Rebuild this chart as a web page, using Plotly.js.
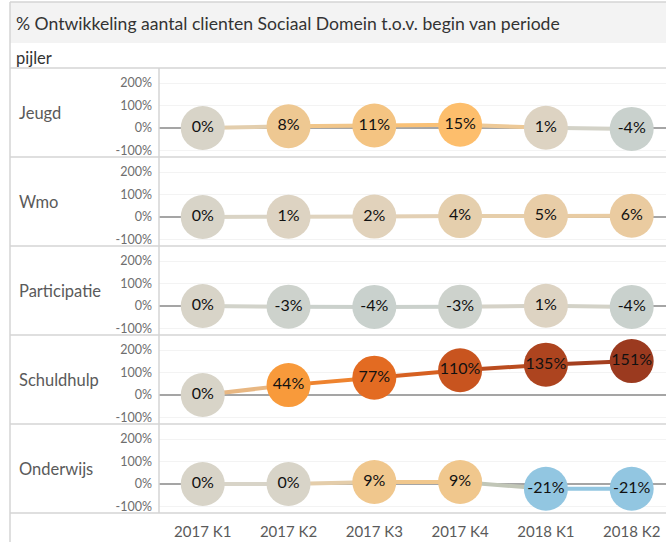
<!DOCTYPE html>
<html>
<head>
<meta charset="utf-8">
<script src="https://cdn.plot.ly/plotly-3.0.1.min.js"></script>
<style>
  body { margin: 0; padding: 0; background: #fff; }
  #chart { width: 666px; height: 542px; }
</style>
</head>
<body>
<div id="chart"></div>
<script>
'use strict'
var quarters = ['2017 K1', '2017 K2', '2017 K3', '2017 K4', '2018 K1', '2018 K2'];
var pijlers = ['Jeugd', 'Wmo', 'Participatie', 'Schuldhulp', 'Onderwijs'];
var jeugd = [0, 8, 11, 15, 1, -4];
var wmo = [0, 1, 2, 4, 5, 6];
var participatie = [0, -3, -4, -3, 1, -4];
var schuldhulp = [0, 44, 77, 110, 135, 151];
var onderwijs = [0, 0, 9, 9, -21, -21];
var yTicks = [-100, 0, 100, 200];
var rows = [jeugd, wmo, participatie, schuldhulp, onderwijs];

/* diverging palette: [value, colour] */
var palette = [
  [-21, '#92c6e1'], [-4, '#c9d1cd'], [0, '#d8d4c8'], [2, '#e1d2bb'],
  [8, '#eec892'], [15, '#fdbe6c'], [44, '#f89a3b'], [77, '#e36b22'],
  [110, '#c8541f'], [151, '#9b3a1f']
];
var cmin = palette[0][0], cmax = palette[palette.length - 1][0];
var colorscale = palette.map(function(p){ return [(p[0] - cmin) / (cmax - cmin), p[1]]; });

function hex2rgb(h){
  return [parseInt(h.substr(1, 2), 16), parseInt(h.substr(3, 2), 16), parseInt(h.substr(5, 2), 16)];
}
function colorAt(v){
  for(var i = 0; i < palette.length - 1; i++){
    if(v <= palette[i + 1][0]){
      var t = (v - palette[i][0]) / (palette[i + 1][0] - palette[i][0]);
      var a = hex2rgb(palette[i][1]), b = hex2rgb(palette[i + 1][1]);
      return [0, 1, 2].map(function(k){ return a[k] + (b[k] - a[k]) * t; });
    }
  }
  return hex2rgb(palette[palette.length - 1][1]);
}
function segColor(v1, v2){
  var a = colorAt(v1), b = colorAt(v2);
  return 'rgb(' + [0, 1, 2].map(function(k){ return Math.round((a[k] + b[k]) / 2); }).join(',') + ')';
}

/* pixel -> paper helpers (plot area x 159..666, y 68..513) */
function px(x){ return (x - 159) / 507; }
function py(y){ return (513 - y) / 445; }

var traces = [];
rows.forEach(function(vals, r){
  var ya = r == 0 ? 'y' : 'y' + (r + 1);
  // connecting segments first so circles sit on top
  for(var i = 0; i < vals.length - 1; i++){
    traces.push({
      type: 'scatter', mode: 'lines',
      x: [quarters[i], quarters[i + 1]], y: [vals[i], vals[i + 1]],
      xaxis: 'x', yaxis: ya,
      line: {color: segColor(vals[i], vals[i + 1]), width: 4},
      hoverinfo: 'skip'
    });
  }
  traces.push({
    type: 'scatter', mode: 'markers+text',
    x: quarters, y: vals,
    xaxis: 'x', yaxis: ya,
    text: vals.map(function(v){ return v + '%'; }),
    textposition: 'middle center',
    textfont: {size: 16, color: '#111'},
    cliponaxis: false,
    marker: {size: 44, color: vals, colorscale: colorscale, cmin: cmin, cmax: cmax,
             line: {width: 0}, opacity: 1}
  });
});

var shapes = [
  {type: 'rect', xref: 'paper', yref: 'paper', x0: px(10), x1: px(666), y0: py(43), y1: py(2),
   fillcolor: '#f3f3f3', line: {width: 0}, layer: 'below'},
  {type: 'line', xref: 'paper', yref: 'paper', x0: px(10), x1: px(666), y0: py(2), y1: py(2),
   line: {color: '#d4d4d4', width: 1.5}},
  {type: 'line', xref: 'paper', yref: 'paper', x0: px(10), x1: px(10), y0: py(2), y1: py(542),
   line: {color: '#d4d4d4', width: 1.5}},
  {type: 'line', xref: 'paper', yref: 'paper', x0: 0, x1: 0, y0: 0, y1: 1,
   line: {color: '#d4d4d4', width: 1.5}}
];
for(var k = 0; k <= pijlers.length; k++){
  shapes.push({type: 'line', xref: 'paper', yref: 'paper', x0: px(10), x1: px(666),
    y0: 1 - k * 0.2, y1: 1 - k * 0.2, line: {color: '#d4d4d4', width: 1.5}});
}

var annotations = [
  {text: 'pijler', xref: 'paper', yref: 'paper', x: px(14), y: py(58), xanchor: 'left', yanchor: 'middle',
   showarrow: false, font: {size: 16.5, color: '#333'}}
];
pijlers.forEach(function(p, r){
  annotations.push({text: p, xref: 'paper', yref: 'paper', x: px(17), y: 0.9 - r * 0.2,
    xanchor: 'left', yanchor: 'middle', showarrow: false, font: {size: 16.5, color: '#5a5a5a'}});
});

var layout = {
  width: 666,
  height: 542,
  margin: {l: 159, r: 0, t: 68, b: 29, pad: 0},
  paper_bgcolor: '#fff',
  plot_bgcolor: '#fff',
  showlegend: false,
  font: {family: 'Lato, "Open Sans", sans-serif'},
  title: {text: '% Ontwikkeling aantal clienten Sociaal Domein t.o.v. begin van periode',
    font: {size: 17.6, color: '#333'}, xref: 'container', yref: 'container',
    x: 16 / 666, xanchor: 'left', y: 1 - 24 / 542, yanchor: 'middle'},
  xaxis: {
    type: 'category', range: [-0.51, 5.40], anchor: 'y5',
    showgrid: false, zeroline: false, showline: false, ticks: '',
    tickfont: {size: 15, color: '#5a5a5a'}, ticklabelstandoff: 8
  },
  shapes: shapes,
  annotations: annotations
};
for(var r = 0; r < pijlers.length; r++){
  layout[r == 0 ? 'yaxis' : 'yaxis' + (r + 1)] = {
    domain: [Math.max(0, 0.8 - r * 0.2), 1 - r * 0.2],
    range: [-129, 267], anchor: 'x',
    tickmode: 'array', tickvals: yTicks,
    ticktext: yTicks.map(function(t){ return t + '%'; }),
    tickfont: {size: 12.5, color: '#6e6e6e'},
    showgrid: true, gridcolor: '#f3f3f3',
    zeroline: true, zerolinecolor: '#a5a5a5', zerolinewidth: 1.5,
    showline: false, ticks: '', ticklabelstandoff: 6
  };
}

Plotly.newPlot('chart', traces, layout, {displayModeBar: false, staticPlot: true});
</script>
</body>
</html>
